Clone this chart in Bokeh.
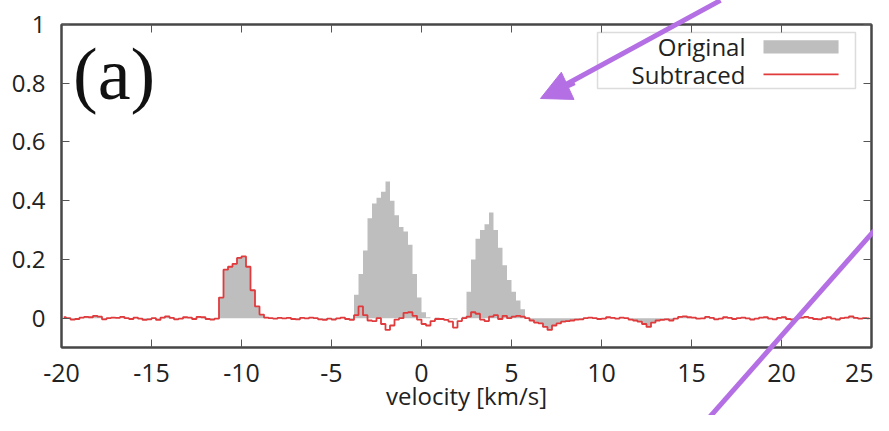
from bokeh.plotting import figure
from bokeh.models import (FixedTicker, LinearAxis, Range1d, BoxAnnotation, Label,
                          Arrow, NormalHead)
from bokeh.embed import file_html
from bokeh.resources import INLINE

# ---- data: spectra on 0.25 km/s channels, -20 .. 25 km/s ----
noise_left = [0.003, 0.0, -0.005, -0.003,
              0.002, 0.004, 0.003, 0.008,
              0.005, -0.004, 0.0, 0.002,
              0.001, 0.004, 0.0, -0.003,
              0.002, -0.002, -0.006, -0.004,
              0.0, -0.006, 0.002, 0.006,
              0.001, -0.004, -0.002, 0.003,
              0.002, -0.003, 0.004, 0.003,
              -0.003, -0.005, -0.002]
peak1 = [0.07, 0.165, 0.175, 0.185, 0.205, 0.21, 0.175, 0.095, 0.04, 0.012, 0.002]
noise_mid = [0.0, -0.002, 0.001, -0.001, 0.001, -0.003, -0.004, 0.001, -0.001, 0.002,
             0.0, -0.004, -0.006, -0.002, -0.005, -0.001, 0.002, -0.003, -0.006]
orig_peak2 = [0.08, 0.15, 0.23, 0.34, 0.39, 0.41, 0.43, 0.465, 0.40, 0.35, 0.31, 0.295,
              0.25, 0.15, 0.07, 0.02, 0.003, 0.0, 0.002, 0.0, 0.0, -0.003, -0.005, 0.0, 0.005]
sub_peak2 = [0.01, 0.04, 0.01, -0.008, -0.01, 0.0, -0.02, -0.04, -0.025, -0.005, 0.0, 0.018,
             0.02, 0.008, -0.005, -0.02, -0.025, -0.01, -0.003, -0.003, -0.006, -0.012, -0.032, -0.01, 0.0]
orig_peak3 = [0.09, 0.2, 0.27, 0.30, 0.32, 0.36, 0.30, 0.24, 0.18, 0.13, 0.09, 0.06, 0.03, 0.0]
sub_peak3 = [0.005, 0.02, 0.015, -0.005, -0.01, 0.005, 0.01, -0.003, 0.008, 0.0, 0.005, 0.008, 0.005, 0.0]
noise_right = [-0.008, -0.015, -0.018, -0.03,
               -0.04, -0.025, -0.018, -0.012,
               -0.01, -0.008, -0.005, -0.004,
               0.0, 0.002, 0.0, -0.003,
               -0.002, 0.003, 0.001, -0.002,
               0.002, 0.0, -0.005, -0.008,
               -0.012, -0.02, -0.03, -0.015,
               -0.008, -0.006, -0.004, -0.008,
               -0.002, 0.004, 0.006, 0.003,
               0.002, -0.002, -0.001, 0.004,
               0.001, -0.004, -0.002, 0.003,
               0.001, -0.003, 0.0, 0.002,
               -0.001, -0.005, -0.002, 0.002,
               0.003, -0.002, -0.004, 0.001,
               0.003, -0.003, -0.005, -0.001,
               0.002, 0.004, 0.001, -0.003,
               -0.004, 0.0, 0.003, -0.002,
               -0.005, 0.0, 0.002, 0.006,
               0.001, -0.002, 0.0, -0.001]

original = noise_left + peak1 + noise_mid + orig_peak2 + orig_peak3 + noise_right
subtracted = noise_left + peak1 + noise_mid + sub_peak2 + sub_peak3 + noise_right
velocity = [round(-19.875 + 0.25 * i, 3) for i in range(len(subtracted))]

x_ticks = [-20, -15, -10, -5, 0, 5, 10, 15, 20, 25]
x_tick_labels = ["-20", "-15", "-10", "-5", "0", "5", "10", "15", "20", "25"]
y_ticks = [0, 0.2, 0.4, 0.6, 0.8, 1]
y_tick_labels = ["0", "0.2", "0.4", "0.6", "0.8", "1"]

GRAY = "#bebebe"
RED = "#e03a3c"
PURPLE = "#b36fe3"
FRAME = "#474747"
FONT = "Open Sans"

p = figure(width=873, height=415, x_range=Range1d(-20, 25), y_range=Range1d(-0.1, 1.0),
           output_backend="svg", toolbar_location=None,
           min_border_left=61, min_border_right=2, min_border_top=24, min_border_bottom=68)
p.grid.visible = False
p.outline_line_color = FRAME
p.outline_line_width = 2
p.background_fill_color = "white"
p.border_fill_color = "white"

p.varea_step(x=velocity, y1=0, y2=original, step_mode="center", fill_color=GRAY)
p.step(x=velocity, y=subtracted, mode="center", line_color=RED, line_width=1.8)


def style_axis(ax):
    ax.axis_line_color = FRAME
    ax.axis_line_width = 2
    ax.major_tick_line_color = "#555555"
    ax.major_tick_line_width = 1
    ax.major_tick_in = 8
    ax.major_tick_out = 0
    ax.minor_tick_line_color = None


xa = p.xaxis[0]
style_axis(xa)
xa.ticker = FixedTicker(ticks=x_ticks)
xa.major_label_overrides = dict(zip(x_ticks, x_tick_labels))
xa.major_label_text_font = FONT
xa.major_label_text_font_size = "25px"
xa.major_label_text_color = "#222222"
xa.major_label_standoff = 16
xa.axis_label = "velocity [km/s]"
xa.axis_label_text_font = FONT
xa.axis_label_text_font_size = "24px"
xa.axis_label_text_font_style = "normal"
xa.axis_label_text_color = "#222222"
xa.axis_label_standoff = -6

ya = p.yaxis[0]
style_axis(ya)
ya.ticker = FixedTicker(ticks=y_ticks)
ya.major_label_overrides = dict(zip(y_ticks, y_tick_labels))
ya.major_label_text_font = FONT
ya.major_label_text_font_size = "24px"
ya.major_label_text_color = "#222222"
ya.major_label_standoff = 16

right_axis = LinearAxis(ticker=FixedTicker(ticks=y_ticks), major_label_text_font_size="0px",
                        major_label_text_color=None, major_label_standoff=0)
style_axis(right_axis)
p.add_layout(right_axis, "right")
top_axis = LinearAxis(ticker=FixedTicker(ticks=x_ticks), major_label_text_font_size="0px",
                      major_label_text_color=None, major_label_standoff=0)
style_axis(top_axis)
p.add_layout(top_axis, "above")

# panel tag
p.add_layout(Label(x=-17.08, y=0.83, text="(a)", text_font="Liberation Serif",
                   text_font_size="74px", text_align="center", text_baseline="middle",
                   text_color="#111111"))

# legend (gnuplot style: text then sample)
p.add_layout(BoxAnnotation(left=9.78, right=24.11, bottom=0.782, top=0.973,
                           fill_color="white", fill_alpha=1.0, level="underlay",
                           line_color="#8a8a8a", line_width=1.5))
p.add_layout(Label(x=18.0, y=0.925, text="Original", text_font=FONT, text_font_size="24px",
                   text_align="right", text_baseline="middle", text_color="#222222"))
p.add_layout(Label(x=18.0, y=0.830, text="Subtraced", text_font=FONT, text_font_size="24px",
                   text_align="right", text_baseline="middle", text_color="#222222"))
p.add_layout(BoxAnnotation(left=19.0, right=23.17, bottom=0.901, top=0.946,
                           fill_color=GRAY, fill_alpha=1.0, line_color=None))
p.add_layout(Arrow(end=None, x_start=19.0, y_start=0.83, x_end=23.17, y_end=0.83,
                   line_color=RED, line_width=1.8))

# purple overlay marks (drawn at overlay level so they may leave the frame)
p.segment(x0=[16.61, 26.0], y0=[1.082, 0.357], x1=[6.9, 15.33], y1=[0.758, -0.384],
          line_color=PURPLE, line_width=5, level="overlay")
p.add_layout(Arrow(end=NormalHead(size=30, fill_color=PURPLE, line_color=PURPLE),
                   x_start=8.5, y_start=0.802, x_end=6.61, y_end=0.748,
                   line_color=PURPLE, line_width=5))

open("out.html", "w").write(file_html(p, INLINE))
